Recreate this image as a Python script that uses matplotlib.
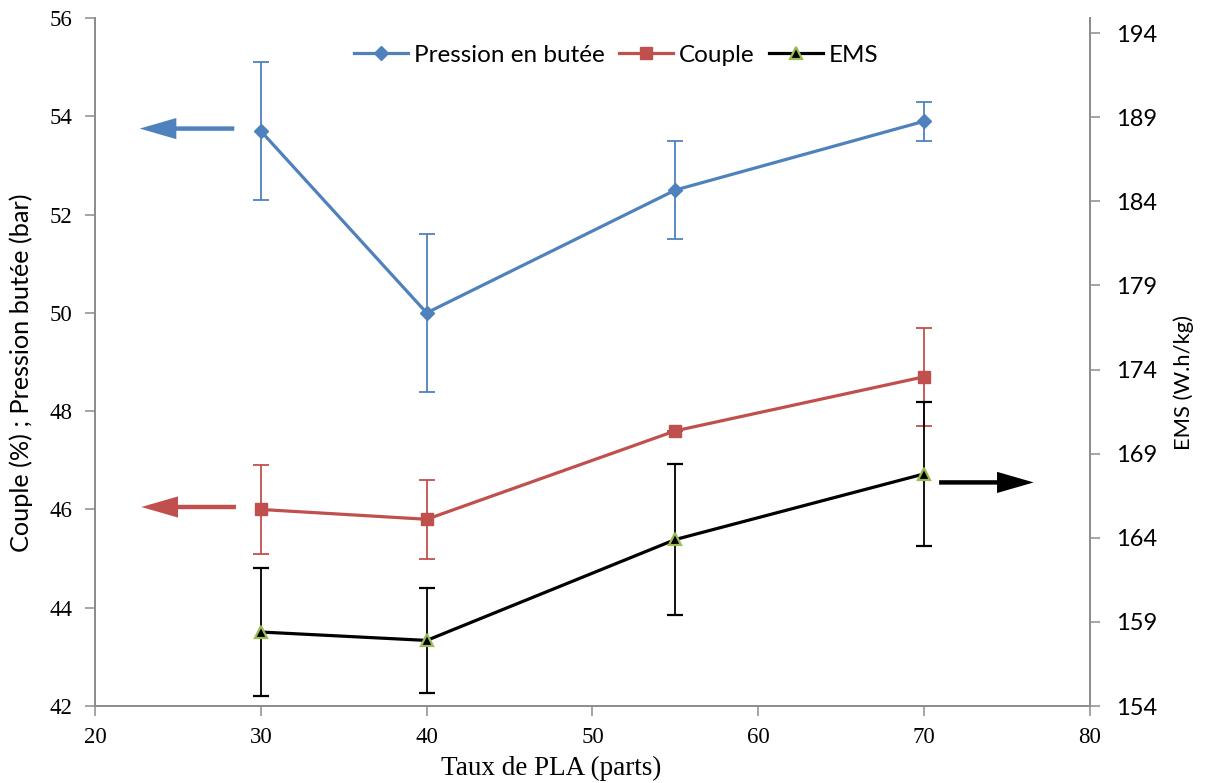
import matplotlib
matplotlib.use("Agg")
import matplotlib.pyplot as plt
from matplotlib.lines import Line2D

# ---- data ----
taux_pla = [30, 40, 55, 70]
pression = [53.7, 50.0, 52.5, 53.9]
pression_err = [1.4, 1.6, 1.0, 0.4]
couple = [46.0, 45.8, 47.6, 48.7]
couple_err = [0.9, 0.8, 0.0, 1.0]
ems = [158.4, 157.9, 163.9, 167.8]
ems_err = [3.8, 3.1, 4.5, 4.3]

x_ticks = [20, 30, 40, 50, 60, 70, 80]
left_ticks = [42, 44, 46, 48, 50, 52, 54, 56]
right_ticks = [154, 159, 164, 169, 174, 179, 184, 189, 194]

BLUE = "#4F81BD"
RED = "#C0504D"
GREEN = "#9BBB59"
GRAY = "#8C8C8C"

serif = "Liberation Serif"
sans = "Lato"

fig = plt.figure(figsize=(12.05, 7.83), dpi=100)
ax = fig.add_axes([0.0788, 0.0983, 0.9046 - 0.0788, 0.977 - 0.0983])
ax2 = ax.twinx()

ax.errorbar(taux_pla, pression, yerr=pression_err, color=BLUE, lw=2.3,
            marker="D", ms=7, mfc=BLUE, mec=BLUE, ecolor=BLUE,
            elinewidth=1.3, capsize=6, capthick=1.3, zorder=3)
ax.errorbar(taux_pla, couple, yerr=couple_err, color=RED, lw=2.3,
            marker="s", ms=8, mfc=RED, mec=RED, ecolor=RED,
            elinewidth=1.3, capsize=6, capthick=1.3, zorder=3)
ax2.errorbar(taux_pla, ems, yerr=ems_err, color="black", lw=2.3,
             marker="^", ms=8, mfc="black", mec=GREEN, mew=1.6, ecolor="black",
             elinewidth=1.3, capsize=6, capthick=1.3, zorder=3)

ax.set_xlim(20, 80)
ax.set_ylim(42, 56)
ax2.set_ylim(154, 194.9)

ax.set_xticks(x_ticks, labels=[str(v) for v in x_ticks],
              fontfamily=serif, fontsize=16.5)
ax.set_yticks(left_ticks, labels=[str(v) for v in left_ticks],
              fontfamily=serif, fontsize=16.5)
ax2.set_yticks(right_ticks, labels=[str(v) for v in right_ticks],
               fontfamily=sans, fontsize=17)

for a in (ax, ax2):
    a.spines["top"].set_visible(False)
    for s in ("left", "right", "bottom"):
        a.spines[s].set_color(GRAY)
        a.spines[s].set_linewidth(1.3)
ax.tick_params(axis="x", direction="out", length=7, width=1.1, color=GRAY, pad=8)
ax.tick_params(axis="y", direction="out", length=7, width=1.1, color=GRAY, pad=9)
ax2.tick_params(axis="y", direction="out", length=7, width=1.1, color=GRAY, pad=12)

ax.set_xlabel("Taux de PLA (parts)", fontfamily=serif, fontsize=19.5)
ax.xaxis.set_label_coords(0.458, -0.072)
ax.set_ylabel("Couple (%) ; Pression butée (bar)", fontfamily=sans, fontsize=18.2)
ax.yaxis.set_label_coords(-0.062, 0.485)
ax2.set_ylabel("EMS (W.h/kg)", fontfamily=sans, fontsize=15.8)
ax2.yaxis.set_label_coords(1.084, 0.47)

# arrows
astyle = "-|>,head_length=1.9,head_width=0.55"
ax.annotate("", xy=(22.7, 53.75), xytext=(28.4, 53.75),
            arrowprops=dict(arrowstyle=astyle, color=BLUE, lw=3.2,
                            shrinkA=0, shrinkB=0, joinstyle="miter", capstyle="butt"))
ax.annotate("", xy=(22.8, 46.05), xytext=(28.5, 46.05),
            arrowprops=dict(arrowstyle=astyle, color=RED, lw=3.2,
                            shrinkA=0, shrinkB=0, joinstyle="miter", capstyle="butt"))
ax.annotate("", xy=(76.6, 46.55), xytext=(70.9, 46.55),
            arrowprops=dict(arrowstyle=astyle, color="black", lw=3.2,
                            shrinkA=0, shrinkB=0, joinstyle="miter", capstyle="butt"))

handles = [
    Line2D([], [], color=BLUE, lw=2.3, marker="D", ms=7),
    Line2D([], [], color=RED, lw=2.3, marker="s", ms=8),
    Line2D([], [], color="black", lw=2.3, marker="^", ms=8, mfc="black", mec=GREEN, mew=1.6),
]
labels = ["Pression en butée", "Couple", "EMS"]
leg = ax2.legend(handles, labels, loc="upper center", bbox_to_anchor=(0.524, 0.993),
                 ncol=3, frameon=False, handlelength=2.2, handletextpad=0.25,
                 columnspacing=0.6, prop={"family": sans, "size": 17.5})

fig.savefig("out.png", dpi=100)
